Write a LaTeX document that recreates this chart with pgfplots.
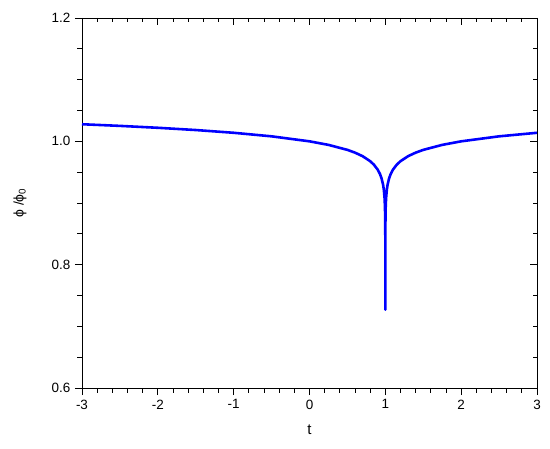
\documentclass[border=0pt]{standalone}
\usepackage{fontspec}
\setmainfont{Liberation Sans}
\usepackage{pgfplots}
\pgfplotsset{compat=1.18}
\begin{document}
\fontsize{13.5}{16}\selectfont
\begin{tikzpicture}
\pgfplotsset{every axis/.append style={
  scale only axis, width=455bp, height=370bp,
  xmin=-3, xmax=3, ymin=0.6, ymax=1.2,
  xtick={-3,-2,...,3}, ytick={0.6,0.8,1.0,1.2},
  minor x tick num=4, minor y tick num=3,
  axis line style={line width=0.9pt}, 
  every tick/.style={line width=0.8pt, black},
  major tick length=7bp, minor tick length=4.5bp,
  /pgf/number format/assume math mode=true,
  tick label style={font=\fontsize{13.5}{16}\selectfont},
}}
\begin{axis}[
  axis x line*=bottom, axis y line*=left, tick align=outside,
  yticklabel style={/pgf/number format/fixed, /pgf/number format/fixed zerofill, /pgf/number format/precision=1},
  xlabel={t}, ylabel={ϕ /ϕ\textsubscript{0}},
  xlabel style={font=\fontsize{15}{17}\selectfont, yshift=-6bp},
  ylabel style={font=\fontsize{14}{16}\selectfont, yshift=16bp},
  x axis line style={-}, y axis line style={-},
]
\addplot[blue, line width=2.6pt, line join=round] coordinates {
(-3,1.02773) (-2.5,1.02506) (-2,1.02197) (-1.5,1.01833) (-1,1.01386) (-0.5,1.00811)
(0,1.0) (0.25,0.99425) (0.5,0.98614) (0.6,0.98167) (0.7,0.97592) (0.8,0.96781)
(0.85,0.96206) (0.9,0.95395) (0.93,0.94681) (0.95,0.94009) (0.97,0.92987)
(0.98,0.92176) (0.99,0.90790) (0.995,0.89403) (0.998,0.87571) (0.999,0.86184)
(0.9995,0.84798) (0.9999,0.81579) (0.99999,0.76974) (1.0,0.727)
(1.00001,0.76974) (1.0001,0.81579) (1.0005,0.84798) (1.001,0.86184) (1.002,0.87571)
(1.005,0.89403) (1.01,0.90790) (1.02,0.92176) (1.03,0.92987) (1.05,0.94009)
(1.07,0.94681) (1.1,0.95395) (1.15,0.96206) (1.2,0.96781) (1.3,0.97592)
(1.4,0.98167) (1.5,0.98614) (1.75,0.99425) (2,1.0) (2.5,1.00811) (3,1.01386)
};
\end{axis}
\begin{axis}[
  axis x line*=top, axis y line*=right, tick align=inside,
  xticklabels={}, yticklabels={},
  x axis line style={-}, y axis line style={-},
]
\end{axis}
\path[use as bounding box] ([xshift=-82bp,yshift=-61bp]current axis.south west) rectangle ([xshift=13bp,yshift=18bp]current axis.north east);
\end{tikzpicture}
\end{document}
